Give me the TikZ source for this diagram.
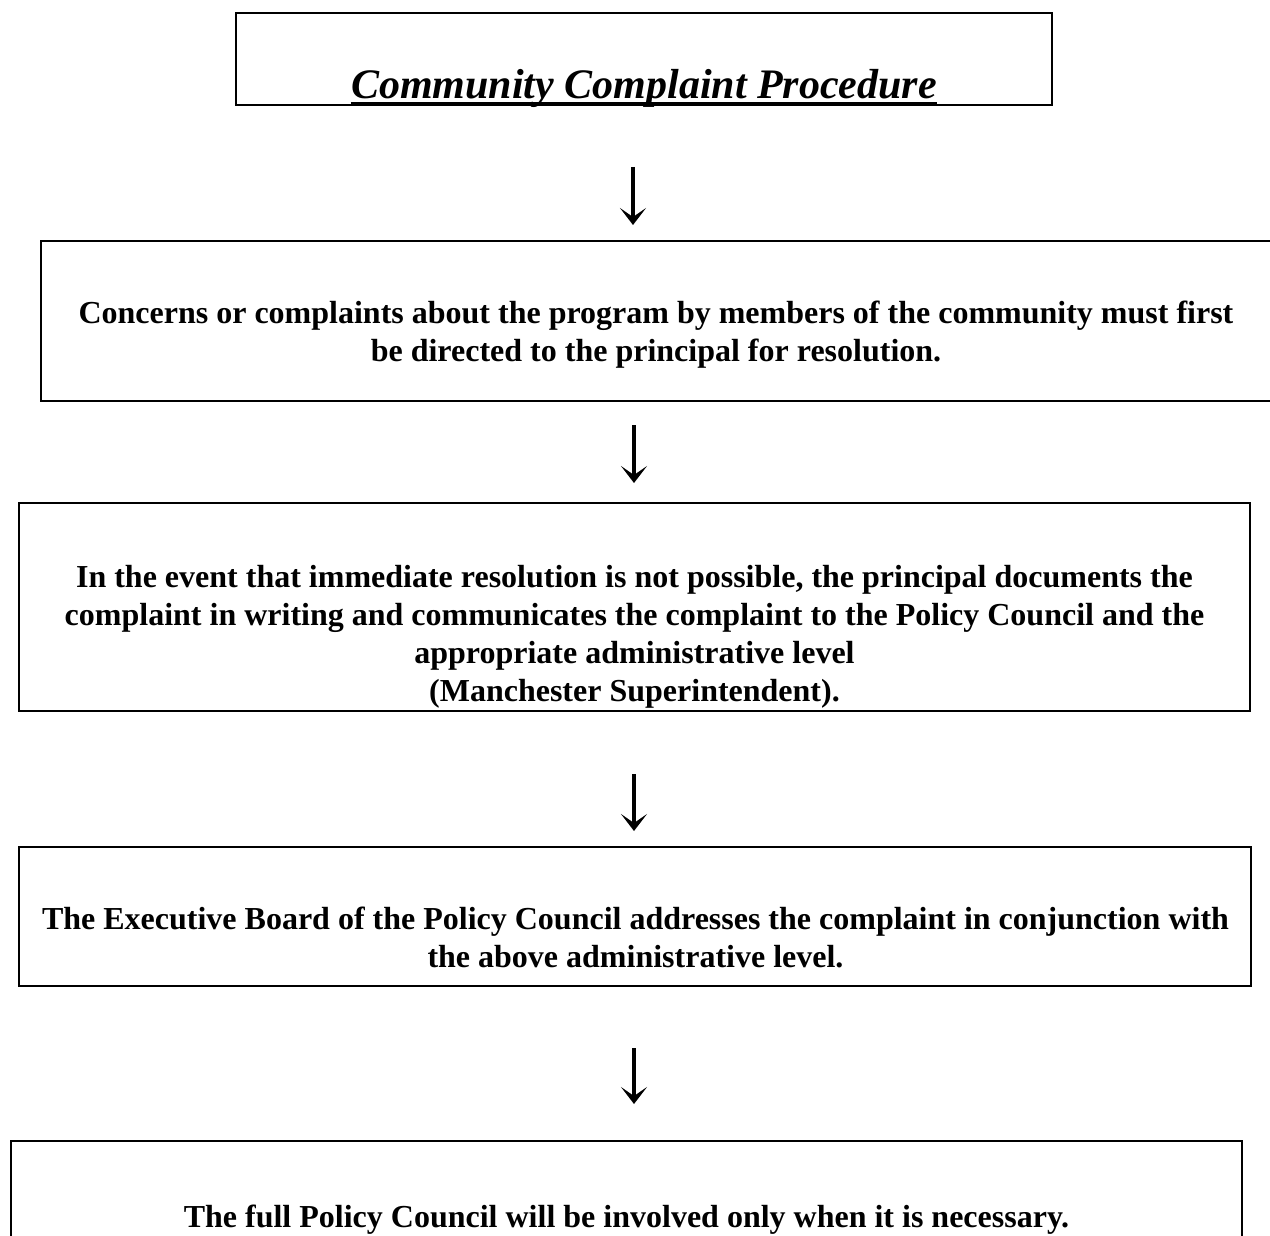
\documentclass[tikz,border=0pt]{standalone}
\usepackage{fontspec}
\setmainfont{Liberation Serif}
\usetikzlibrary{arrows.meta}
\begin{document}
\begin{tikzpicture}[x=1pt,y=-1pt,
  box/.style={draw=black, line width=2pt, rectangle, inner sep=0pt},
  body/.style={font=\bfseries\fontsize{32}{38}\selectfont, align=center, inner sep=0pt},
  titletext/.style={font=\bfseries\itshape\fontsize{42}{50}\selectfont, inner sep=0pt},
  arr/.style={line width=3.5pt, -{Stealth[length=17pt,width=26pt,inset=9pt]}}]
\useasboundingbox (0,0) rectangle (1270,1236);
\fill[white] (0,0) rectangle (1270,1236);

% boxes
\node[box, minimum width=816pt, minimum height=92pt] (b1) at (644,59) {};
\node[box, minimum width=1231pt, minimum height=160pt] (b2) at (656.5,321) {};
\node[box, minimum width=1231pt, minimum height=208pt] (b3) at (634.5,607) {};
\node[box, minimum width=1232pt, minimum height=139pt] (b4) at (635,916.5) {};
\node[box, minimum width=1231pt, minimum height=149pt] (b5) at (626.5,1215.5) {};

% texts
\node[titletext, anchor=base] (t1) at (644,99) {Community Complaint Procedure};
\draw[line width=2pt] ([yshift=-4pt]t1.base west) -- ([yshift=-4pt]t1.base east);
\node[body] (t2) at (656,335) {Concerns or complaints about the program by members of the community must first\\be directed to the principal for resolution.};
\node[body] (t3) at (634.5,636.5) {In the event that immediate resolution is not possible, the principal documents the\\complaint in writing and communicates the complaint to the Policy Council and the\\appropriate administrative level\\(Manchester Superintendent).};
\node[body] (t4) at (635.5,937) {The Executive Board of the Policy Council addresses the complaint in conjunction with\\the above administrative level.};
\node[body, anchor=base] (t5) at (626.5,1227) {The full Policy Council will be involved only when it is necessary.};

% arrows
\coordinate (ax) at (634,0);
\coordinate (ax1) at (633,0);
\draw[arr, shorten <=61pt, shorten >=15pt] (b1.south -| ax1) -- (b2.north -| ax1);
\draw[arr, shorten <=23pt, shorten >=19pt] (b2.south -| ax) -- (b3.north -| ax);
\draw[arr, shorten <=62pt, shorten >=15pt] (b3.south -| ax) -- (b4.north -| ax);
\draw[arr, shorten <=61pt, shorten >=36pt] (b4.south -| ax) -- (b5.north -| ax);
\end{tikzpicture}
\end{document}
